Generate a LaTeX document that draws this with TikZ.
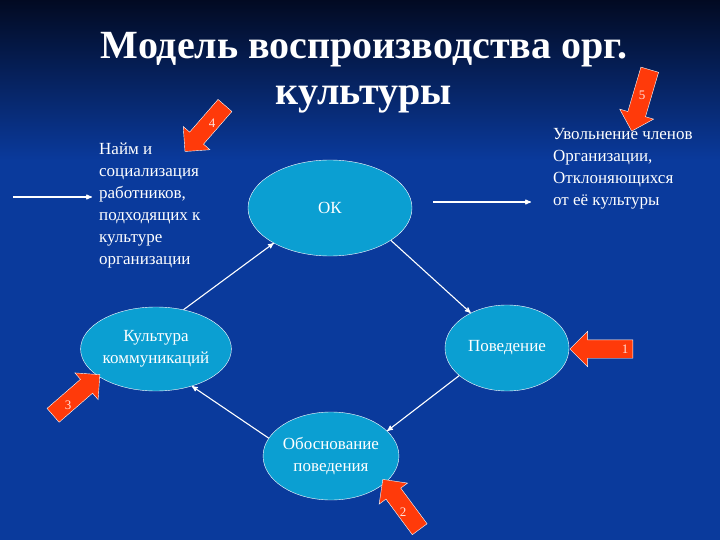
\documentclass[tikz,border=0pt]{standalone}
\usepackage{fontspec}
\setmainfont{Liberation Serif}
\usetikzlibrary{positioning}
\usetikzlibrary{shapes.geometric}
\usetikzlibrary{shapes.arrows}
\usetikzlibrary{arrows}
\definecolor{slideblue}{HTML}{0A3A9C}
\definecolor{slidetop}{HTML}{020A22}
\definecolor{ovalfill}{HTML}{0B9FD2}
\definecolor{markred}{HTML}{FF3A0A}
\tikzset{x=1pt, y=-1pt, % one unit is one pixel of the slide
oval/.style={ % Cyan ellipses of the cycle
ellipse,
draw=white, thin,
fill=ovalfill,
text=white,
align=center,
inner sep=0pt,
font=\fontsize{17}{22}\selectfont},
sidetext/.style={ % Text blocks left and right
text=white,
align=left,
inner sep=0pt,
font=\fontsize{17}{22}\selectfont},
link/.style={ % White connectors
draw=white,
line width=1.1pt,
->,>=stealth'},
redarrow/.style={ % Numbered block arrows
single arrow,
draw=white, thin,
fill=markred,
inner xsep=0pt, inner ysep=9pt,
single arrow head extend=8.5pt},
marknum/.style={text=white!85!markred, font=\fontsize{13}{13}\selectfont}}

\begin{document}
\begin{tikzpicture}
\useasboundingbox (0,0) rectangle (720,540);
\shade[top color=slidetop, bottom color=slideblue] (0,0) rectangle (720,160);
\fill[slideblue] (0,160) rectangle (720,540);

\node[text=white, align=center, font=\fontsize{40}{46}\selectfont\bfseries] (title) at (364,73)
{Модель воспроизводства орг.\\культуры};

\node[oval, minimum width=164pt, minimum height=96pt] (ok) at (330,208) {ОК};
\node[oval, minimum width=124pt, minimum height=86pt] (beh) at (507,348) {Поведение};
\node[oval, minimum width=114pt, minimum height=88pt] (just) at (331,456) {Обоснование\\поведения};
\node[oval, minimum width=112pt, minimum height=84pt] (cult) at (156,349) {Культура\\коммуникаций};

\node[sidetext, anchor=north west] (hire) at (99,143)
{Найм и\\социализация\\работников,\\подходящих к\\культуре\\организации};
\node[sidetext, anchor=north west] (fire) at (553,128)
{Увольнение членов\\Организации,\\Отклоняющихся\\от её культуры};

\coordinate (hirestart) at (13,197);
\coordinate (firestart) at (433,202);
\draw[link] (hirestart) -- ([xshift=-7pt]hirestart -| hire.west);
\draw[link] (firestart) -- ([xshift=-22pt]firestart -| fire.west);

\draw[link] (ok.332) -- (beh.136);
\draw[link] (beh.210) -- (just.24);
\draw[link] (just.164) -- (cult.314);
\draw[link] (cult.55) -- (ok.212);

\node[redarrow, minimum height=63pt, minimum width=35pt, rotate=180] (a1) at (606,349) {};
\node[marknum] (n1) at (625,349) {1};
\node[redarrow, minimum height=62pt, minimum width=35pt, rotate=126.5] (a2) at (404,508) {};
\node[marknum] (n2) at (403,512) {2};
\node[redarrow, minimum height=62pt, minimum width=35pt, rotate=41] (a3) at (73,398) {};
\node[marknum] (n3) at (68,405) {3};
\node[redarrow, minimum height=61pt, minimum width=34pt, rotate=229] (a4) at (208,125) {};
\node[marknum] (n4) at (212,123) {4};
\node[redarrow, minimum height=64pt, minimum width=34pt, rotate=253.6] (a5) at (642,96) {};
\node[marknum] (n5) at (642,95) {5};
\end{tikzpicture}
\end{document}
